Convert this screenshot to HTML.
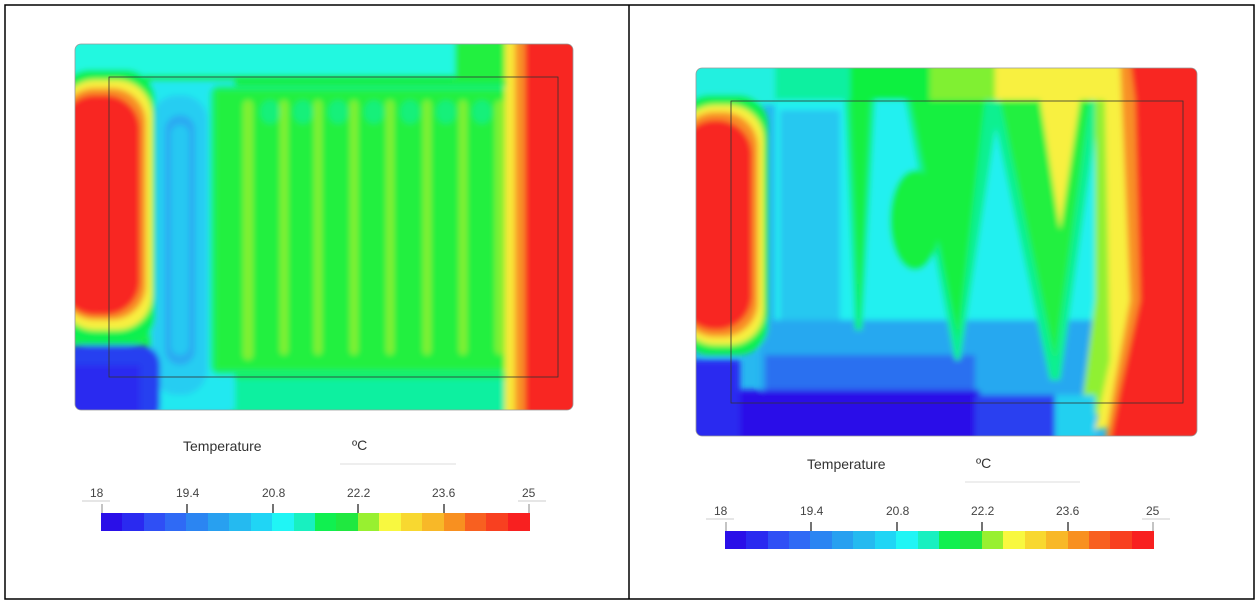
<!DOCTYPE html>
<html><head><style>
html,body{margin:0;padding:0;background:#fff;}
svg{display:block;font-family:"Liberation Sans",sans-serif;}
</style></head><body>
<svg width="1259" height="605" viewBox="0 0 1259 605" xmlns="http://www.w3.org/2000/svg">
<defs>
<filter id="b" x="-10%" y="-10%" width="120%" height="120%"><feGaussianBlur stdDeviation="3"/></filter>
<clipPath id="cl"><rect x="75" y="44" width="498" height="366" rx="6"/></clipPath>
<clipPath id="cr"><rect x="696" y="68" width="501" height="368" rx="6"/></clipPath>
</defs>
<rect x="5" y="5" width="1249" height="594" fill="#fff" stroke="#000" stroke-width="1.5"/>
<line x1="629" y1="5" x2="629" y2="599" stroke="#000" stroke-width="1.5"/>

<!-- LEFT PLOT -->
<g clip-path="url(#cl)">
<rect x="75" y="44" width="498" height="366" fill="#18ee48"/>
<g filter="url(#b)">
<rect x="60" y="30" width="420" height="46" fill="#20f8e0"/>
<rect x="60" y="378" width="500" height="40" fill="#10f0a0"/>
<rect x="60" y="395" width="170" height="30" fill="#20e0f0"/>
<path d="M150 80 L235 80 L235 410 L150 410Z" fill="#20e8f0"/>
<rect x="152" y="95" width="55" height="300" rx="25" fill="#28cdf2"/>
<rect x="165" y="115" width="30" height="250" rx="15" fill="#2aaaf2"/>
<rect x="171" y="125" width="18" height="230" rx="9" fill="#26c8f2"/>
<rect x="210" y="85" width="310" height="290" rx="10" fill="#14f07a"/>
<rect x="215" y="90" width="305" height="280" fill="#20f040"/>
<g fill="#14f07a">
<ellipse cx="270" cy="112" rx="10" ry="12"/><ellipse cx="303" cy="112" rx="10" ry="12"/><ellipse cx="338" cy="112" rx="10" ry="12"/><ellipse cx="374" cy="112" rx="10" ry="12"/><ellipse cx="410" cy="112" rx="10" ry="12"/><ellipse cx="446" cy="112" rx="10" ry="12"/><ellipse cx="482" cy="112" rx="10" ry="12"/>
</g>
<g fill="#80f030">
<rect x="243" y="100" width="10" height="260" rx="5"/>
<rect x="280" y="100" width="8" height="255" rx="4"/>
<rect x="314" y="100" width="8" height="255" rx="4"/>
<rect x="350" y="100" width="8" height="255" rx="4"/>
<rect x="386" y="100" width="8" height="255" rx="4"/>
<rect x="423" y="100" width="8" height="255" rx="4"/>
<rect x="459" y="100" width="8" height="255" rx="4"/>
<rect x="495" y="100" width="12" height="255" rx="6"/>
</g>
<rect x="455" y="40" width="70" height="40" fill="#20f040"/>
<rect x="505" y="40" width="30" height="380" fill="#f8e838"/>
<rect x="515" y="40" width="20" height="380" fill="#f89028"/>
<rect x="525" y="40" width="60" height="380" fill="#f82820"/>
<rect x="60" y="70" width="95" height="275" rx="30" fill="#10f050"/>
<rect x="60" y="80" width="92" height="250" rx="35" fill="#f8f040"/>
<rect x="60" y="88" width="86" height="232" rx="35" fill="#f89028"/>
<rect x="60" y="95" width="80" height="220" rx="35" fill="#f82820"/>
<rect x="60" y="345" width="100" height="80" rx="20" fill="#2840f0"/>
<rect x="60" y="365" width="80" height="60" fill="#2a2af0"/>
</g>
<rect x="109" y="77" width="449" height="300" fill="none" stroke="#333" stroke-width="0.8"/>
</g>
<rect x="75" y="44" width="498" height="366" rx="6" fill="none" stroke="#999" stroke-width="0.8"/>

<!-- RIGHT PLOT -->
<g clip-path="url(#cr)">
<rect x="696" y="68" width="501" height="368" fill="#28b8f0"/>
<g filter="url(#b)">
<rect x="680" y="55" width="100" height="50" fill="#20f0e0"/>
<rect x="775" y="55" width="80" height="50" fill="#10f0a0"/>
<rect x="850" y="55" width="85" height="50" fill="#10f040"/>
<rect x="930" y="55" width="70" height="50" fill="#80f030"/>
<rect x="995" y="55" width="140" height="50" fill="#f8f040"/>
<rect x="775" y="100" width="340" height="290" fill="#20f0f0"/>
<rect x="780" y="110" width="60" height="280" fill="#28c8f0"/>
<rect x="760" y="320" width="340" height="80" fill="#28a8f0"/>
<rect x="765" y="355" width="210" height="45" fill="#2a70f0"/>
<path d="M845 100 L875 100 L862 330 L855 330Z" fill="#10f080"/>
<path d="M850 100 L870 100 L860 320Z" fill="#18f040"/>
<path d="M905 100 L1000 100 L960 360 L955 360Z" fill="#10f090"/>
<path d="M910 100 L985 100 L958 340Z" fill="#18f040"/>
<ellipse cx="915" cy="220" rx="25" ry="50" fill="#18f040"/>
<path d="M990 100 L1100 100 L1060 380 L1050 380Z" fill="#10f090"/>
<path d="M1000 100 L1090 100 L1055 360Z" fill="#20f040"/>
<path d="M1040 100 L1080 100 L1060 230Z" fill="#f8f040"/>
<path d="M1095 100 L1140 100 L1140 400 L1080 420 L1095 300Z" fill="#90f030"/>
<path d="M1105 100 L1140 100 L1140 420 L1095 430 L1110 360 L1108 250Z" fill="#f8f040"/>
<path d="M1120 60 L1140 60 L1140 440 L1105 440 L1115 380 L1130 300Z" fill="#f89028"/>
<path d="M1130 60 L1210 60 L1210 440 L1110 440 L1120 390 L1140 300 L1135 100Z" fill="#f82820"/>
<rect x="680" y="390" width="300" height="60" fill="#2a0fe8"/>
<rect x="975" y="395" width="90" height="50" fill="#2a40f0"/>
<rect x="1055" y="395" width="40" height="50" fill="#20d0f0"/>
<rect x="680" y="360" width="60" height="80" fill="#2a2af0"/>
<rect x="680" y="95" width="88" height="260" rx="30" fill="#10f050"/>
<rect x="680" y="105" width="84" height="240" rx="35" fill="#f8f040"/>
<rect x="680" y="112" width="78" height="225" rx="35" fill="#f89028"/>
<rect x="680" y="120" width="72" height="210" rx="35" fill="#f82820"/>
</g>
<rect x="731" y="101" width="452" height="302" fill="none" stroke="#333" stroke-width="0.8"/>
</g>
<rect x="696" y="68" width="501" height="368" rx="6" fill="none" stroke="#999" stroke-width="0.8"/>

<!-- LEFT LEGEND -->
<text x="183" y="451" font-size="14" fill="#333">Temperature</text>
<text x="352" y="450" font-size="14" fill="#333">ºC</text>
<line x1="340" y1="464" x2="456" y2="464" stroke="#ddd"/>
<g font-size="12" fill="#444">
<text x="90" y="497">18</text><text x="176" y="497">19.4</text><text x="262" y="497">20.8</text><text x="347" y="497">22.2</text><text x="432" y="497">23.6</text><text x="522" y="497">25</text>
</g>
<line x1="82" y1="501" x2="110" y2="501" stroke="#ccc"/><line x1="518" y1="501" x2="546" y2="501" stroke="#ccc"/>
<g stroke="#888" stroke-width="1">
<line x1="102" y1="504" x2="102" y2="513"/><line x1="187" y1="504" x2="187" y2="513" stroke="#444" stroke-width="1.5"/><line x1="273" y1="504" x2="273" y2="513" stroke="#444" stroke-width="1.5"/><line x1="358" y1="504" x2="358" y2="513" stroke="#444" stroke-width="1.5"/><line x1="444" y1="504" x2="444" y2="513" stroke="#444" stroke-width="1.5"/><line x1="529" y1="504" x2="529" y2="513"/>
</g>
<g id="barL">
<rect x="101" y="513" width="22" height="18" fill="#2a0fe8"/><rect x="122" y="513" width="22" height="18" fill="#2a2af0"/><rect x="144" y="513" width="22" height="18" fill="#2f4ff5"/><rect x="165" y="513" width="22" height="18" fill="#2f6af5"/><rect x="186" y="513" width="22" height="18" fill="#2b85f2"/><rect x="208" y="513" width="22" height="18" fill="#28a0f0"/><rect x="229" y="513" width="22" height="18" fill="#25baf0"/><rect x="251" y="513" width="22" height="18" fill="#20d5f5"/><rect x="272" y="513" width="22" height="18" fill="#20f5f5"/><rect x="294" y="513" width="22" height="18" fill="#18f0c0"/><rect x="315" y="513" width="22" height="18" fill="#10f050"/><rect x="336" y="513" width="22" height="18" fill="#20e840"/><rect x="358" y="513" width="22" height="18" fill="#98f030"/><rect x="379" y="513" width="22" height="18" fill="#f8f840"/><rect x="401" y="513" width="22" height="18" fill="#f8d830"/><rect x="422" y="513" width="22" height="18" fill="#f8b828"/><rect x="444" y="513" width="22" height="18" fill="#f89020"/><rect x="465" y="513" width="22" height="18" fill="#f86020"/><rect x="486" y="513" width="22" height="18" fill="#f84020"/><rect x="508" y="513" width="22" height="18" fill="#f82020"/>
</g>

<!-- RIGHT LEGEND -->
<text x="807" y="469" font-size="14" fill="#333">Temperature</text>
<text x="976" y="468" font-size="14" fill="#333">ºC</text>
<line x1="965" y1="482" x2="1080" y2="482" stroke="#ddd"/>
<g font-size="12" fill="#444">
<text x="714" y="515">18</text><text x="800" y="515">19.4</text><text x="886" y="515">20.8</text><text x="971" y="515">22.2</text><text x="1056" y="515">23.6</text><text x="1146" y="515">25</text>
</g>
<line x1="706" y1="519" x2="734" y2="519" stroke="#ccc"/><line x1="1142" y1="519" x2="1170" y2="519" stroke="#ccc"/>
<g stroke="#444" stroke-width="1.5">
<line x1="726" y1="522" x2="726" y2="531" stroke="#888" stroke-width="1"/><line x1="811" y1="522" x2="811" y2="531"/><line x1="897" y1="522" x2="897" y2="531"/><line x1="982" y1="522" x2="982" y2="531"/><line x1="1068" y1="522" x2="1068" y2="531"/><line x1="1153" y1="522" x2="1153" y2="531" stroke="#888" stroke-width="1"/>
</g>
<use href="#barL" transform="translate(624,18)"/>
</svg>
</body></html>
